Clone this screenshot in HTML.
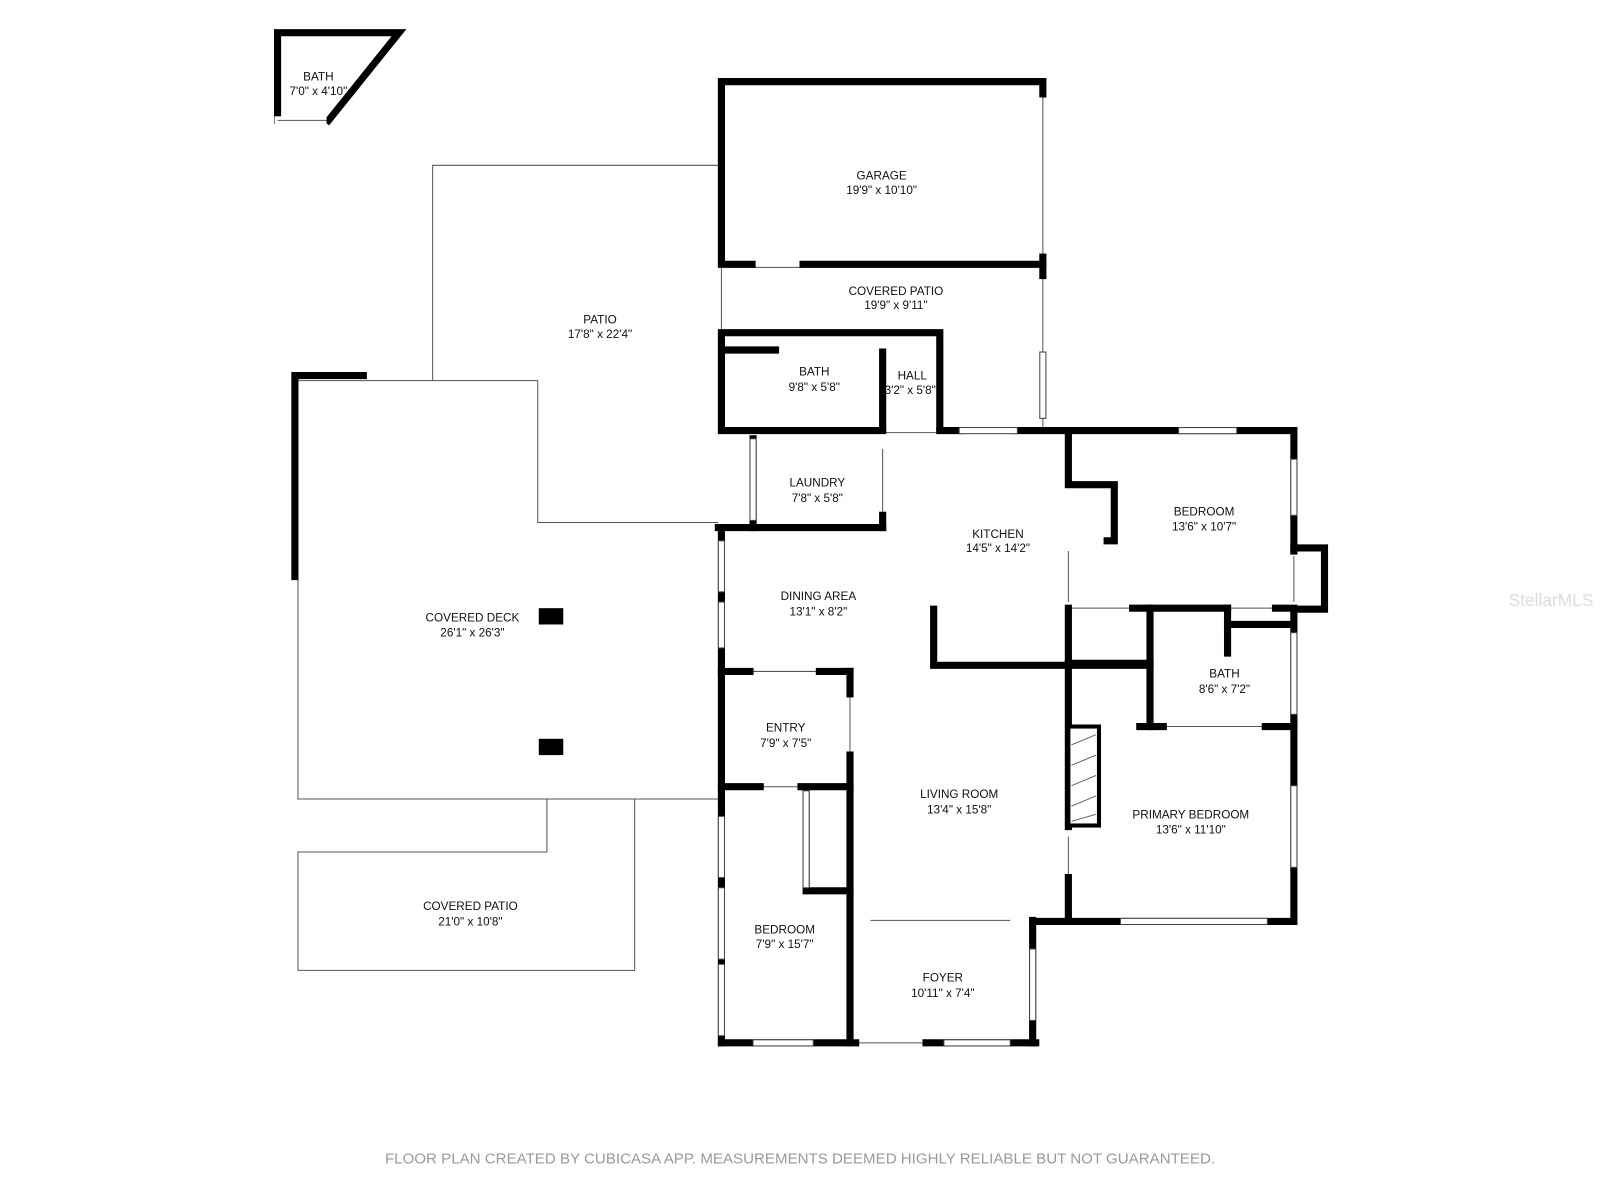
<!DOCTYPE html>
<html><head><meta charset="utf-8"><style>
html,body{margin:0;padding:0;background:#fff;}
svg{display:block;}
text{font-family:"Liberation Sans",sans-serif;font-size:11.5px;fill:#111;text-anchor:middle;}
</style></head><body>
<svg width="1600" height="1200" viewBox="0 0 1568 1176" preserveAspectRatio="none" xmlns="http://www.w3.org/2000/svg">
<rect width="1568" height="1176" fill="#fff"/>
<g fill="none" stroke="#555" stroke-width="1">
<polyline points="424,373 424,162 704,162"/>
<polyline points="292,565 292,783 704,783"/>
<polyline points="292,373 527,373 527,512 704,512"/>
<polyline points="536,783 536,835 292,835 292,951 622,951 622,783"/>
<line x1="707" y1="262" x2="707" y2="326"/>
<line x1="1022" y1="92" x2="1022" y2="250"/>
<line x1="1022" y1="272" x2="1022" y2="420"/>
<line x1="272" y1="118" x2="320" y2="118"/>
<line x1="737" y1="262" x2="787" y2="262"/>
<line x1="868" y1="424" x2="921" y2="424"/>
<line x1="735" y1="658" x2="803" y2="658"/>
<line x1="833" y1="680" x2="833" y2="740"/>
<line x1="745" y1="771" x2="785" y2="771"/>
<line x1="853" y1="902" x2="990" y2="902"/>
<line x1="843" y1="1022" x2="903" y2="1022"/>
<line x1="1047" y1="540" x2="1047" y2="590"/>
<line x1="1140" y1="712" x2="1240" y2="712"/>
<line x1="1047" y1="820" x2="1047" y2="860"/>
<line x1="1047" y1="596" x2="1127" y2="596"/>
<line x1="1203" y1="596" x2="1250" y2="596"/>
<line x1="865" y1="440" x2="865" y2="505"/>
<line x1="1268" y1="545" x2="1268" y2="590"/>
</g>
<g fill="none" stroke="#000" stroke-width="7" stroke-linecap="square">
<polyline points="272,118 272,32 391,32 322,118"/>
<polyline points="1022,92 1022,80 707,80 707,259 737,259"/>
<line x1="787" y1="259" x2="1022" y2="259"/>
<line x1="1022" y1="252" x2="1022" y2="270"/>
<polyline points="921,420 921,326 707,326 707,422 865,422"/>
<line x1="710" y1="343" x2="760" y2="343"/>
<line x1="865" y1="345" x2="865" y2="420"/>
<line x1="921" y1="422" x2="940" y2="422"/>
<line x1="997" y1="422" x2="1268" y2="422"/>
<polyline points="738,430 738,517 704,517"/>
<line x1="738" y1="517" x2="865" y2="517"/>
<line x1="865" y1="505" x2="865" y2="517"/>
<polyline points="289,565 289,368 356,368"/>
<line x1="707" y1="517" x2="707" y2="1022"/>
<line x1="707" y1="658" x2="735" y2="658"/>
<line x1="803" y1="658" x2="833" y2="658"/>
<line x1="833" y1="658" x2="833" y2="680"/>
<line x1="833" y1="740" x2="833" y2="1022"/>
<line x1="707" y1="771" x2="745" y2="771"/>
<line x1="785" y1="771" x2="833" y2="771"/>
<polyline points="790,775 790,873 833,873"/>
<line x1="707" y1="1022" x2="1015" y2="1022"/>
<line x1="1012" y1="902" x2="1012" y2="1022"/>
<line x1="1012" y1="903" x2="1268" y2="903"/>
<polyline points="915,597 915,652 1125,652"/>
<polyline points="1047,422 1047,475 1092,475 1092,530 1085,530"/>
<line x1="1268" y1="422" x2="1268" y2="540"/>
<polyline points="1268,537 1298,537 1298,597 1268,597"/>
<line x1="1268" y1="597" x2="1268" y2="903"/>
<line x1="1110" y1="596" x2="1203" y2="596"/>
<line x1="1250" y1="596" x2="1268" y2="596"/>
<line x1="1127" y1="596" x2="1127" y2="712"/>
<polyline points="1203,640 1203,596"/>
<line x1="1203" y1="612" x2="1268" y2="612"/>
<line x1="1117" y1="712" x2="1140" y2="712"/>
<line x1="1240" y1="712" x2="1268" y2="712"/>
<line x1="1047" y1="596" x2="1047" y2="810"/>
<line x1="1047" y1="860" x2="1047" y2="903"/>
<line x1="1047" y1="650" x2="1127" y2="650"/>
</g>
<g fill="#fff" stroke="#444" stroke-width="1">
<rect x="1019" y="345" width="6" height="65"/>
<rect x="940" y="419" width="57" height="6"/>
<rect x="1155" y="419" width="57" height="6"/>
<rect x="735" y="430" width="6" height="80"/>
<rect x="704" y="530" width="6" height="50"/>
<rect x="704" y="590" width="6" height="45"/>
<rect x="704" y="800" width="6" height="60"/>
<rect x="704" y="870" width="6" height="70"/>
<rect x="704" y="945" width="6" height="70"/>
<rect x="738" y="1019" width="59" height="6"/>
<rect x="925" y="1019" width="65" height="6"/>
<rect x="1009" y="930" width="6" height="70"/>
<rect x="1098" y="900" width="144" height="6"/>
<rect x="1265" y="450" width="6" height="55"/>
<rect x="1265" y="620" width="6" height="80"/>
<rect x="1265" y="770" width="6" height="80"/>
<rect x="787" y="775" width="6" height="95"/>
</g>
<g fill="#fff" stroke="none">
<rect x="842" y="1018" width="62" height="8"/>
<rect x="269" y="114" width="51" height="8"/>
<line x1="272" y1="118" x2="320" y2="118" stroke="#555"/>
<line x1="842" y1="1022" x2="904" y2="1022" stroke="#555"/>
</g>
<rect x="1047" y="712" width="30" height="97" fill="#fff" stroke="#000" stroke-width="4"/>
<g stroke="#666" stroke-width="1">
<line x1="1050" y1="730" x2="1074" y2="720"/><line x1="1050" y1="750" x2="1074" y2="740"/>
<line x1="1050" y1="770" x2="1074" y2="760"/><line x1="1050" y1="790" x2="1074" y2="780"/>
<line x1="1050" y1="805" x2="1074" y2="798"/>
</g>
<rect x="528" y="596" width="24" height="16" fill="#000"/>
<rect x="528" y="724" width="24" height="16" fill="#000"/>
<text x="312" y="79">BATH</text><text x="312" y="93">7'0" x 4'10"</text>
<text x="864" y="176">GARAGE</text><text x="864" y="190">19'9" x 10'10"</text>
<text x="878" y="289">COVERED PATIO</text><text x="878" y="303">19'9" x 9'11"</text>
<text x="588" y="317">PATIO</text><text x="588" y="331">17'8" x 22'4"</text>
<text x="798" y="368">BATH</text><text x="798" y="383">9'8" x 5'8"</text>
<text x="894" y="372">HALL</text><text x="892" y="386">3'2" x 5'8"</text>
<text x="801" y="477">LAUNDRY</text><text x="801" y="492">7'8" x 5'8"</text>
<text x="978" y="527">KITCHEN</text><text x="978" y="541">14'5" x 14'2"</text>
<text x="1180" y="505">BEDROOM</text><text x="1180" y="520">13'6" x 10'7"</text>
<text x="802" y="588">DINING AREA</text><text x="802" y="603">13'1" x 8'2"</text>
<text x="463" y="609">COVERED DECK</text><text x="463" y="624">26'1" x 26'3"</text>
<text x="1200" y="664">BATH</text><text x="1200" y="679">8'6" x 7'2"</text>
<text x="770" y="717">ENTRY</text><text x="770" y="732">7'9" x 7'5"</text>
<text x="940" y="782">LIVING ROOM</text><text x="940" y="797">13'4" x 15'8"</text>
<text x="1167" y="802">PRIMARY BEDROOM</text><text x="1167" y="817">13'6" x 11'10"</text>
<text x="461" y="892">COVERED PATIO</text><text x="461" y="907">21'0" x 10'8"</text>
<text x="769" y="915">BEDROOM</text><text x="769" y="929">7'9" x 15'7"</text>
<text x="924" y="962">FOYER</text><text x="924" y="977">10'11" x 7'4"</text>
<text x="1520" y="594" style="font-size:17px;fill:#ddd">StellarMLS</text>
<text x="784" y="1140" style="font-size:14.8px;fill:#999">FLOOR PLAN CREATED BY CUBICASA APP. MEASUREMENTS DEEMED HIGHLY RELIABLE BUT NOT GUARANTEED.</text>
</svg>
</body></html>
